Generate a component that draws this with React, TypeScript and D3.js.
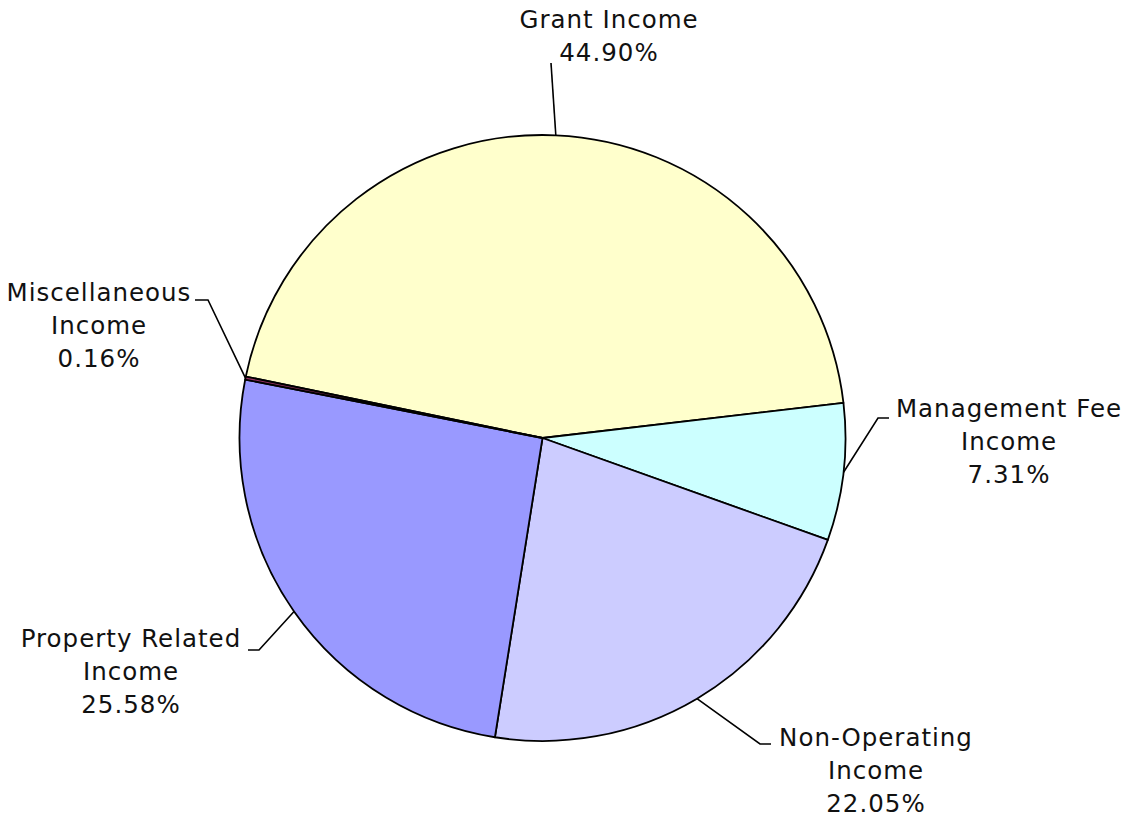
import React from "react";
import * as d3 from "d3";

const categories = [
  "Grant Income",
  "Management Fee Income",
  "Non-Operating Income",
  "Property Related Income",
  "Miscellaneous Income",
];
const values = [44.9, 7.31, 22.05, 25.58, 0.16];
const colors = ["#FFFFCC", "#CCFFFF", "#CCCCFF", "#9999FF", "#993366"];
const labelLines = [
  ["Grant Income"],
  ["Management Fee", "Income"],
  ["Non-Operating", "Income"],
  ["Property Related", "Income"],
  ["Miscellaneous", "Income"],
];

// layout (positions of label text and leader elbows)
const labelLayout = [
  { tx: 609, ty: 28, elbow: [551, 63], end: null as null | number[] },
  { tx: 1009, ty: 417, elbow: [878, 418], end: [889, 418] },
  { tx: 876, ty: 746, elbow: [760, 744], end: [771, 744] },
  { tx: 131, ty: 647, elbow: [259, 650], end: [248, 650] },
  { tx: 99, ty: 301, elbow: [208, 300], end: [195, 300] },
];

const W = 1131;
const H = 821;
const cx = 542.5;
const cy = 438;
const R = 303;
const lineH = 33;

export default function App() {
  const start = (-78.3 * Math.PI) / 180;
  const pie = d3
    .pie<number>()
    .sort(null)
    .value((d) => d)
    .startAngle(start)
    .endAngle(start + 2 * Math.PI);
  const arcs = pie(values);
  const arc = d3.arc<d3.PieArcDatum<number>>().innerRadius(0).outerRadius(R);
  const fmt = d3.format(".2f");

  return (
    <svg
      width={W}
      height={H}
      style={{ position: "absolute", left: 0, top: 0, background: "#fff" }}
      fontFamily="'DejaVu Sans', Verdana, sans-serif"
    >
      <g transform={`translate(${cx},${cy})`}>
        {arcs.map((a, i) => (
          <path
            key={categories[i]}
            d={arc(a) || ""}
            fill={colors[i]}
            stroke="#000"
            strokeWidth={1.8}
            strokeLinejoin="round"
          />
        ))}
      </g>
      {arcs.map((a, i) => {
        const mid = (a.startAngle + a.endAngle) / 2;
        const px = cx + R * Math.sin(mid);
        const py = cy - R * Math.cos(mid);
        const L = labelLayout[i];
        const pts: number[][] = [[px, py], L.elbow];
        if (L.end) pts.push(L.end);
        const lines = [...labelLines[i], fmt(values[i]) + "%"];
        return (
          <g key={"lab" + i}>
            <path
              d={d3.line()(pts as [number, number][]) || ""}
              fill="none"
              stroke="#000"
              strokeWidth={1.6}
            />
            <text textAnchor="middle" fontSize={24.5} letterSpacing={1} fill="#111">
              {lines.map((t, j) => (
                <tspan key={j} x={L.tx} y={L.ty + j * lineH}>
                  {t}
                </tspan>
              ))}
            </text>
          </g>
        );
      })}
    </svg>
  );
}
